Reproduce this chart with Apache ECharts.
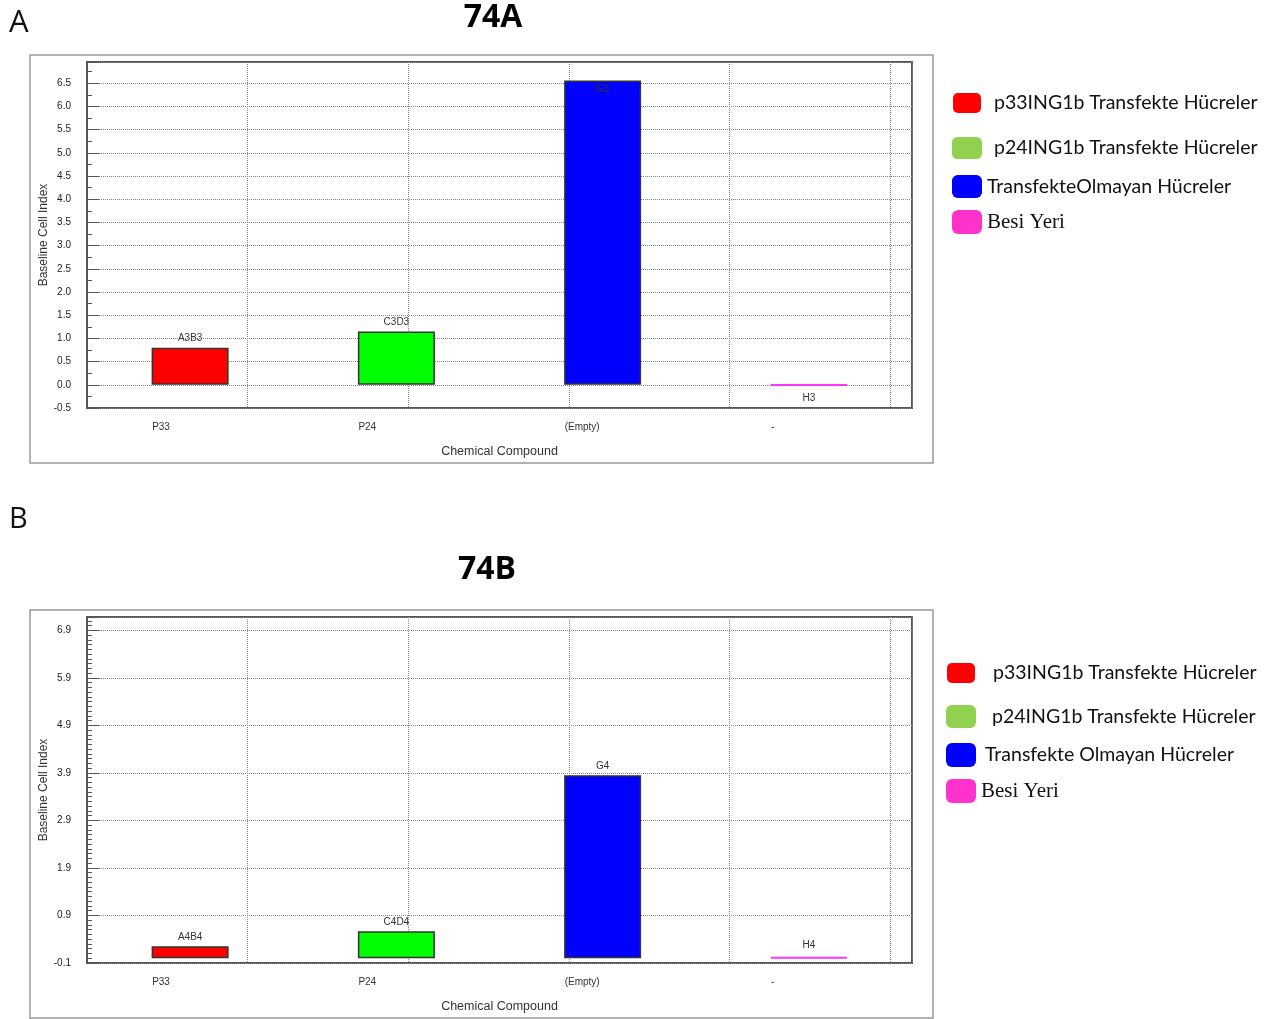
<!DOCTYPE html>
<html>
<head>
<meta charset="utf-8">
<script src="https://cdn.jsdelivr.net/npm/echarts@6/dist/echarts.min.js"></script>
<style>
  html, body { margin: 0; padding: 0; background: #fff; }
  #main { width: 1264px; height: 1019px; }
</style>
</head>
<body>
<div id="main"></div>
<script>
// categories and series
var categories = ['P33', 'P24', '(Empty)', '-'];
var namesA = ['p33ING1b Transfekte Hücreler', 'p24ING1b Transfekte Hücreler', 'TransfekteOlmayan Hücreler', 'Besi Yeri'];
var namesB = ['p33ING1b Transfekte Hücreler', 'p24ING1b Transfekte Hücreler', 'Transfekte Olmayan Hücreler', 'Besi Yeri'];
var wellsA = ['A3B3', 'C3D3', 'G3', 'H3'];
var wellsB = ['A4B4', 'C4D4', 'G4', 'H4'];
// baseline cell index
var valuesA = [0.80, 1.15, 6.56, -0.01];
var valuesB = [0.25, 0.57, 3.85, 0.02];

var barColors = ['#ff0000', '#00ff00', '#0000ff', '#ff33ff'];
var legendColors = ['#ff0000', '#92d050', '#0000ff', '#ff33cc'];
var labelPosA = ['top', 'top', 'insideTop', 'bottom'];
var labelPosB = ['top', 'top', 'top', 'top'];

var chart = echarts.init(document.getElementById('main'));
var tickFont = 'Liberation Sans';

function makeSeries(names, values, wells, pos, xi, yi, stack) {
  return names.map(function (n, i) {
    var data = categories.map(function (c, j) {
      if (j !== i) return '-';
      return { value: values[i], label: { position: pos[i], formatter: wells[i], distance: i === 3 ? 7 : 4 } };
    });
    var last = i === 3;
    return {
      name: n,
      type: 'bar',
      stack: stack,
      xAxisIndex: xi,
      yAxisIndex: yi,
      barWidth: 77,
      data: data,
      itemStyle: {
        color: barColors[i],
        borderColor: last ? barColors[i] : '#333',
        borderWidth: last ? 2 : 1.5
      },
      label: { show: true, fontSize: 10, color: '#333', fontFamily: tickFont },
      emphasis: { disabled: true }
    };
  });
}

function catAxis(grid) {
  return {
    type: 'category', gridIndex: grid, data: categories,
    axisLine: { show: false }, axisTick: { show: false },
    axisLabel: { align: 'left', padding: [0, 0, 0, -38], margin: 14, fontSize: 10, color: '#333', fontFamily: tickFont },
    name: 'Chemical Compound', nameLocation: 'middle', nameGap: 37,
    nameTextStyle: { fontSize: 12.5, color: '#333', fontFamily: tickFont }
  };
}

function vGridAxis(grid) {
  return {
    type: 'value', gridIndex: grid, position: 'top', min: 0, max: 5.137, interval: 1,
    axisLine: { show: false }, axisTick: { show: false }, axisLabel: { show: false },
    splitLine: { show: true, lineStyle: { type: 'dotted', color: '#888' } }
  };
}

function legendItems(names, lefts, tops, sizes, pads) {
  return names.map(function (n, i) {
    var serif = i === 3;
    return {
      data: [{ name: n, itemStyle: { color: legendColors[i], borderWidth: 0 } }],
      left: lefts[i], top: tops[i], padding: 0,
      icon: 'roundRect', itemWidth: sizes[i][0], itemHeight: sizes[i][1],
      itemStyle: { borderWidth: 0 },
      selectedMode: false,
      textStyle: {
        fontFamily: serif ? 'Liberation Serif' : 'Lato',
        fontSize: serif ? 21 : 19.5, color: '#111',
        padding: [0, 0, 0, pads[i]]
      }
    };
  });
}

// axis that only carries the name (no labels to push it away)
function nameAxis(grid, min, max) {
  return {
    type: 'value', gridIndex: grid, position: 'left', min: min, max: max,
    axisLine: { show: false }, axisTick: { show: false }, axisLabel: { show: false }, splitLine: { show: false },
    name: 'Baseline Cell Index', nameLocation: 'middle', nameGap: 37,
    nameTextStyle: { fontSize: 12, color: '#333', fontFamily: tickFont }
  };
}

var option = {
  backgroundColor: '#fff',
  animation: false,
  grid: [
    { left: 87, top: 62, width: 825, height: 346, show: true, borderColor: '#555', borderWidth: 2, backgroundColor: '#fff' },
    { left: 87, top: 617, width: 825, height: 346, show: true, borderColor: '#555', borderWidth: 2, backgroundColor: '#fff' }
  ],
  xAxis: [catAxis(0), vGridAxis(0), catAxis(1), vGridAxis(1)],
  yAxis: [
    {
      type: 'value', gridIndex: 0, position: 'left', min: -0.5, max: 6.96, interval: 0.5,
      axisLine: { show: true, lineStyle: { color: '#555', width: 2 } },
      axisTick: { show: true, inside: true, length: 12, lineStyle: { color: '#555' } },
      minorTick: { show: true, splitNumber: 2, length: 5, lineStyle: { color: '#555' } },
      axisLabel: { showMaxLabel: false, margin: 16, fontSize: 10, color: '#222', fontFamily: tickFont,
        formatter: function (v) { return v.toFixed(1); } },
      splitLine: { show: true, lineStyle: { type: 'dotted', color: '#888' } }
    },
    {
      // tick axis for B: ticks at -0.1, 0.9, ... (shifted by 0.1)
      type: 'value', gridIndex: 1, position: 'left', min: 0, max: 7.28, interval: 1,
      axisLine: { show: true, lineStyle: { color: '#555', width: 2 } },
      axisTick: { show: true, inside: true, length: 12, lineStyle: { color: '#555' } },
      minorTick: { show: true, splitNumber: 10, length: 5, lineStyle: { color: '#555' } },
      axisLabel: { showMaxLabel: false, margin: 16, fontSize: 10, color: '#222', fontFamily: tickFont,
        formatter: function (v) { return (v - 0.1).toFixed(1); } },
      splitLine: { show: true, lineStyle: { type: 'dotted', color: '#888' } }
    },
    nameAxis(1, -0.1, 7.18),
    nameAxis(0, -0.5, 6.96)
  ],
  legend: [].concat(
    legendItems(namesA, [953, 952, 952, 952], [93, 137, 175, 210], [[28, 20], [30, 22], [30, 23], [30, 24]], [8, 7, 0, 0]),
    legendItems(namesB, [947, 946, 946, 946], [663, 705, 743, 779], [[28, 20], [30, 23], [30, 24], [30, 24]], [13, 11, 4, 0])
  ),
  graphic: [
    { type: 'rect', shape: { x: 30, y: 55, width: 903, height: 408 }, style: { fill: null, stroke: '#999', lineWidth: 1.5 }, z: -1 },
    { type: 'rect', shape: { x: 30, y: 610, width: 903, height: 408 }, style: { fill: null, stroke: '#999', lineWidth: 1.5 }, z: -1 },
    { type: 'text', x: 9, y: 8, style: { text: 'A', fontSize: 31, fontFamily: 'Open Sans', fill: '#111' } },
    { type: 'text', x: 9, y: 505, style: { text: 'B', fontSize: 29, fontFamily: 'Open Sans', fill: '#111' } },
    { type: 'text', x: 493, y: 18, style: { text: '74A', fontSize: 32, fontWeight: 'bold', fontFamily: 'Open Sans', fill: '#000', align: 'center', verticalAlign: 'middle' } },
    { type: 'text', x: 487, y: 570, style: { text: '74B', fontSize: 32, fontWeight: 'bold', fontFamily: 'Open Sans', fill: '#000', align: 'center', verticalAlign: 'middle' } }
  ],
  series: [].concat(
    makeSeries(namesA, valuesA, wellsA, labelPosA, 0, 0, 'a'),
    makeSeries(namesB, valuesB, wellsB, labelPosB, 2, 2, 'b')
  )
};

chart.setOption(option);
</script>
</body>
</html>
